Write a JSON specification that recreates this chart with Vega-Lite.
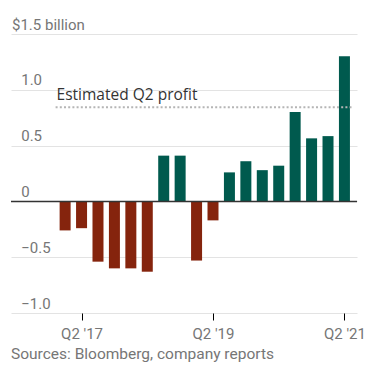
{
  "$schema": "https://vega.github.io/schema/vega-lite/v6.json",
  "width": 346,
  "height": 279,
  "autosize": {"type": "none"},
  "padding": {"left": 11, "top": 34, "right": 8, "bottom": 59},
  "background": "white",
  "config": {
    "view": {"stroke": null},
    "font": "Roboto"
  },
  "title": {
    "text": "Sources: Bloomberg, company reports",
    "orient": "bottom",
    "anchor": "start",
    "frame": "group",
    "offset": 5,
    "fontSize": 15.5,
    "fontWeight": "normal",
    "color": "#767676",
    "font": "Roboto"
  },
  "datasets": {
    "bars": [
      {"i": 0, "quarter": "Q1 '17", "profit": -0.26},
      {"i": 1, "quarter": "Q2 '17", "profit": -0.24},
      {"i": 2, "quarter": "Q3 '17", "profit": -0.54},
      {"i": 3, "quarter": "Q4 '17", "profit": -0.60},
      {"i": 4, "quarter": "Q1 '18", "profit": -0.60},
      {"i": 5, "quarter": "Q2 '18", "profit": -0.63},
      {"i": 6, "quarter": "Q3 '18", "profit": 0.41},
      {"i": 7, "quarter": "Q4 '18", "profit": 0.41},
      {"i": 8, "quarter": "Q1 '19", "profit": -0.53},
      {"i": 9, "quarter": "Q2 '19", "profit": -0.17},
      {"i": 10, "quarter": "Q3 '19", "profit": 0.26},
      {"i": 11, "quarter": "Q4 '19", "profit": 0.36},
      {"i": 12, "quarter": "Q1 '20", "profit": 0.28},
      {"i": 13, "quarter": "Q2 '20", "profit": 0.32},
      {"i": 14, "quarter": "Q3 '20", "profit": 0.80},
      {"i": 15, "quarter": "Q4 '20", "profit": 0.565},
      {"i": 16, "quarter": "Q1 '21", "profit": 0.585},
      {"i": 17, "quarter": "Q2 '21", "profit": 1.30}
    ],
    "estimate": [
      {"x": -0.58, "x2": 17.43, "y": 0.843, "label": "Estimated Q2 profit", "lx": -0.52, "ly": 0.91}
    ],
    "zero": [{"y": 0}]
  },
  "layer": [
    {
      "data": {"name": "bars"},
      "mark": {"type": "bar", "size": 11},
      "encoding": {
        "x": {
          "field": "i",
          "type": "quantitative",
          "scale": {"domain": [-2.99, 17.46], "nice": false, "zero": false},
          "axis": {
            "values": [1, 9, 17],
            "labelExpr": "datum.value == 1 ? \"Q2 '17\" : datum.value == 9 ? \"Q2 '19\" : \"Q2 '21\"",
            "title": null,
            "domain": false,
            "grid": false,
            "ticks": true,
            "tickColor": "#000000",
            "tickSize": 7,
            "tickWidth": 1,
            "labelPadding": 6.5,
            "labelFontSize": 15,
            "labelColor": "#767676",
            "labelFont": "Roboto"
          }
        },
        "y": {
          "field": "profit",
          "type": "quantitative",
          "scale": {"domain": [-1, 1.5], "nice": false, "zero": false},
          "axis": {
            "values": [-1, -0.5, 0, 0.5, 1, 1.5],
            "labelExpr": "datum.value == 1.5 ? '$1.5 billion' : datum.value == 0 ? '0' : format(datum.value, '.1f')",
            "title": null,
            "domain": false,
            "ticks": false,
            "tickSize": 0,
            "grid": true,
            "gridColor": "#e3e3e3",
            "gridWidth": 1,
            "labelAlign": "left",
            "labelBaseline": "alphabetic",
            "labelOffset": -5,
            "labelPadding": {"condition": {"test": "datum.value == 1.5", "value": -0.5}, "value": -9.7},
            "labelFontSize": 15,
            "labelColor": "#767676",
            "labelFont": "Roboto"
          }
        },
        "color": {
          "condition": {"test": "datum.profit < 0", "value": "#85240d"},
          "value": "#005a4e"
        }
      }
    },
    {
      "data": {"name": "zero"},
      "mark": {"type": "rule", "color": "#333333", "strokeWidth": 1.5},
      "encoding": {"y": {"field": "y", "type": "quantitative"}}
    },
    {
      "data": {"name": "estimate"},
      "mark": {"type": "rule", "color": "#b5b5b5", "strokeWidth": 2, "strokeDash": [2, 2.2]},
      "encoding": {
        "x": {"field": "x", "type": "quantitative"},
        "x2": {"field": "x2"},
        "y": {"field": "y", "type": "quantitative"}
      }
    },
    {
      "data": {"name": "estimate"},
      "mark": {"type": "text", "align": "left", "baseline": "alphabetic", "fontSize": 15.5, "font": "Open Sans", "color": "#333333"},
      "encoding": {
        "x": {"field": "lx", "type": "quantitative"},
        "y": {"field": "ly", "type": "quantitative"},
        "text": {"field": "label"}
      }
    }
  ]
}
